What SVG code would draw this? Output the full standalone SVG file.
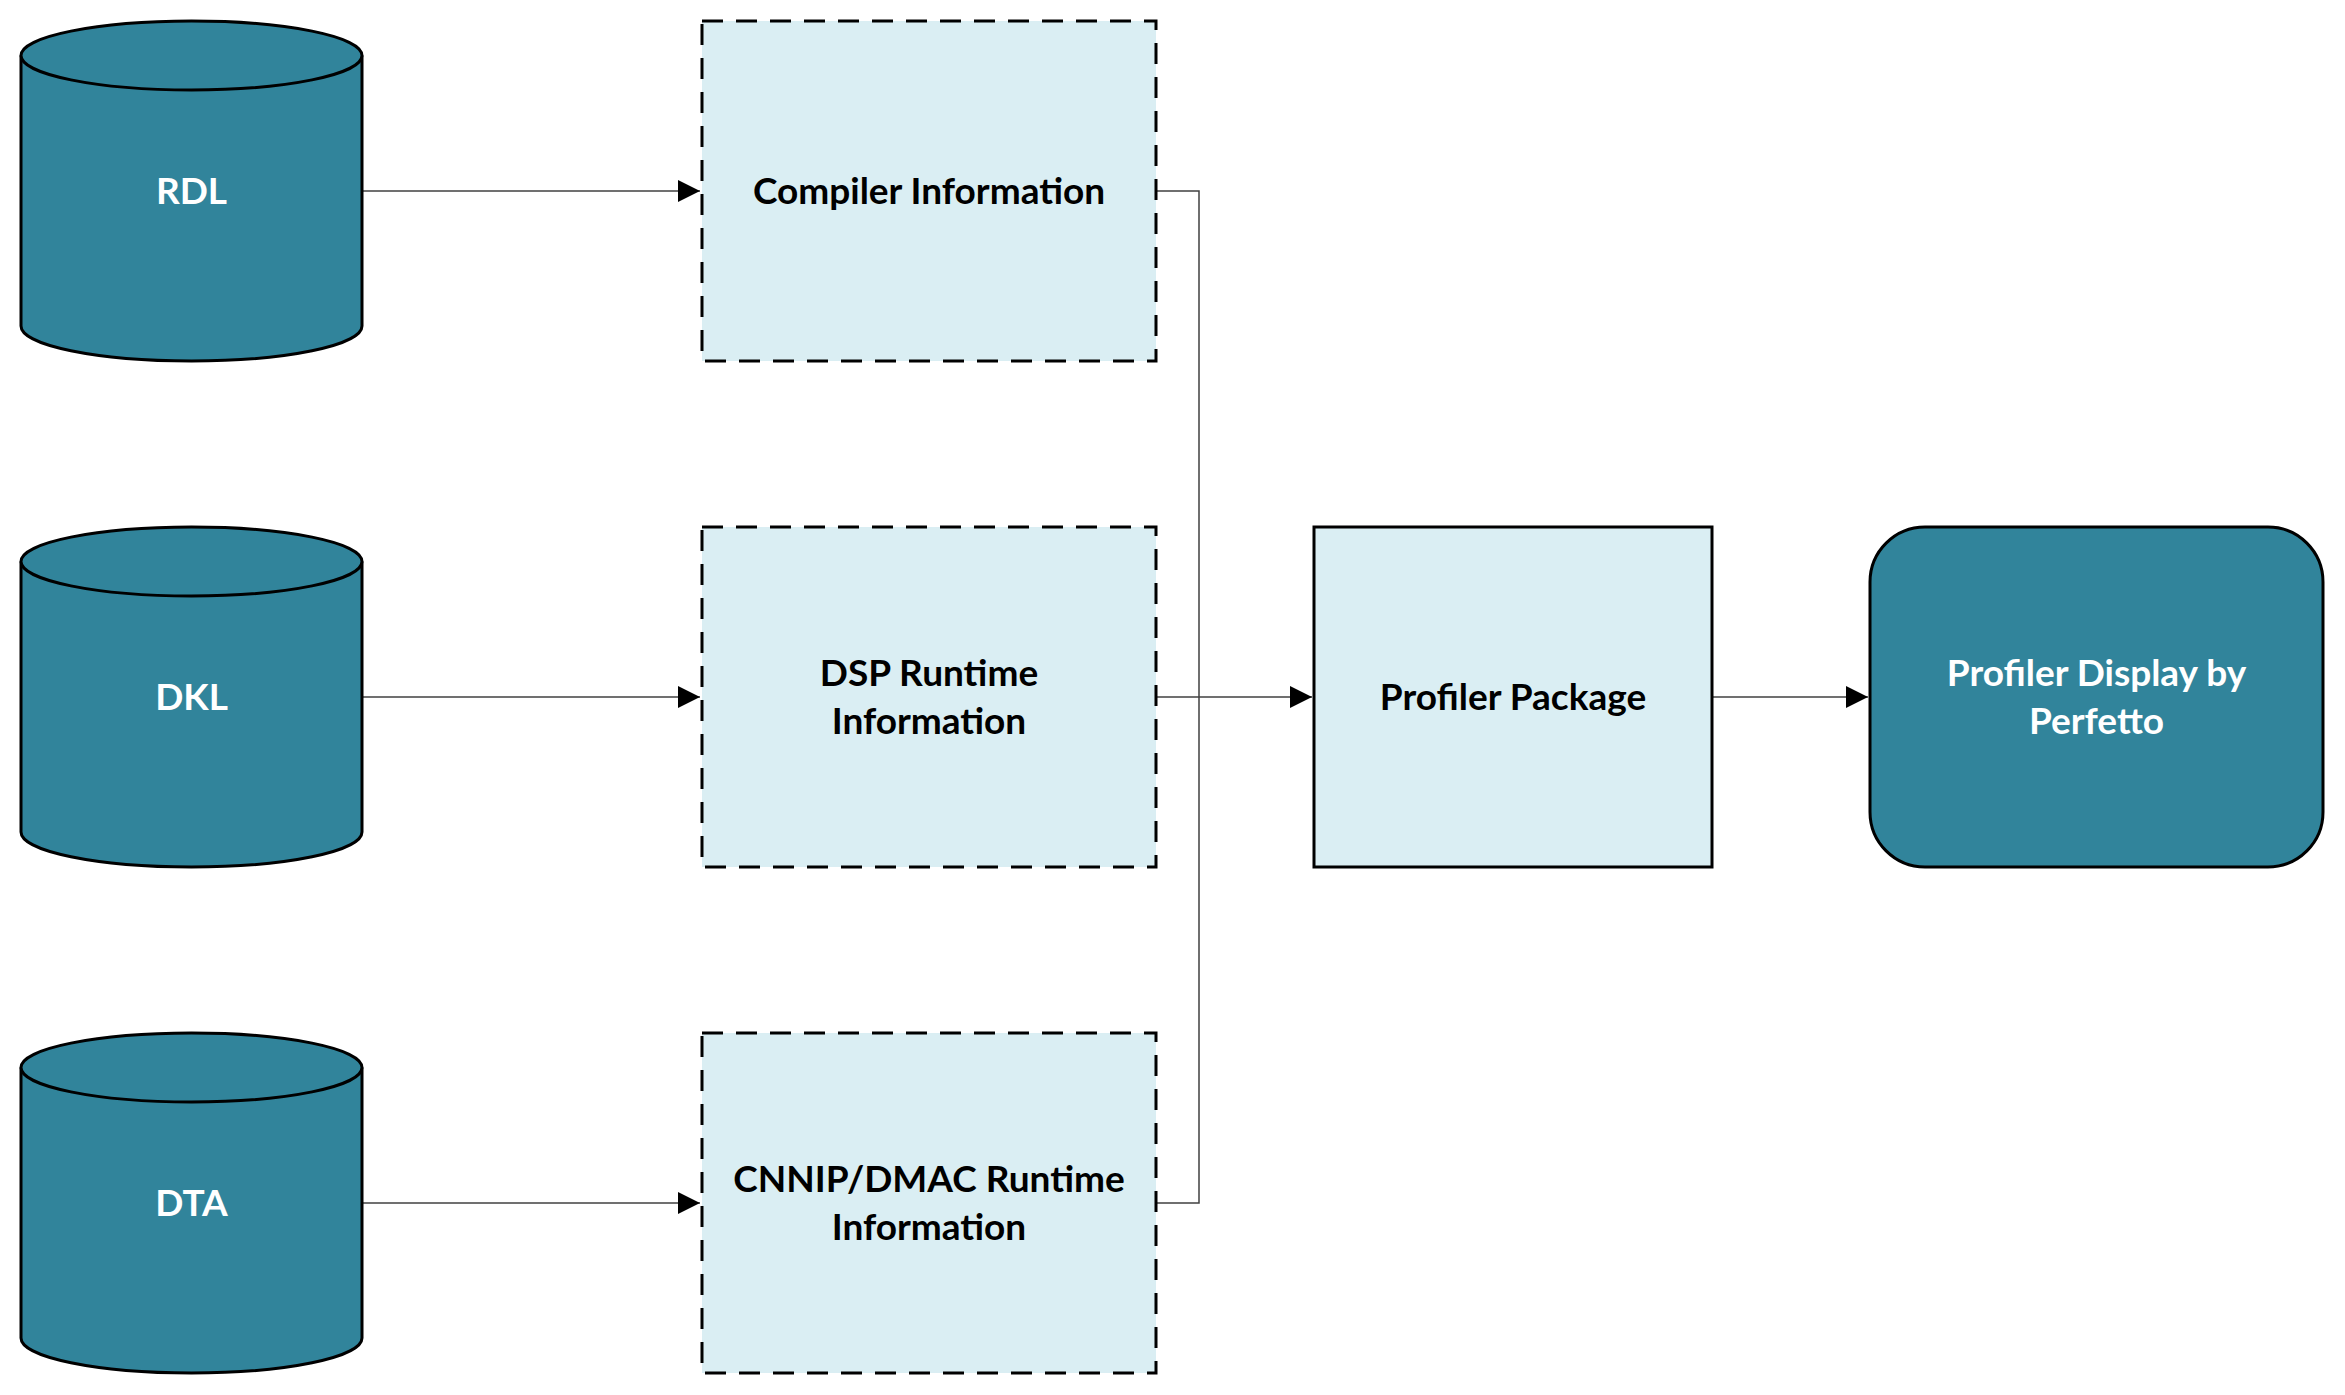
<svg xmlns="http://www.w3.org/2000/svg" width="2345" height="1395" viewBox="0 0 2345 1395">
<style>
.cyl{fill:#31849B;stroke:#000;stroke-width:3}
.dash{fill:#DAEEF3;stroke:#000;stroke-width:3;stroke-dasharray:21 13}
.solid{fill:#DAEEF3;stroke:#000;stroke-width:3}
.dark{fill:#31849B;stroke:#000;stroke-width:3}
.lt{font-family:Lato,"Open Sans","Liberation Sans",sans-serif;font-weight:bold;font-size:37px;text-anchor:middle;fill:#fff}
.dt{font-family:Lato,"Open Sans","Liberation Sans",sans-serif;font-weight:bold;font-size:37px;text-anchor:middle;fill:#000}
.conn{fill:none;stroke:#404040;stroke-width:1.5}
</style>
<defs>
<marker id="arr" markerUnits="userSpaceOnUse" markerWidth="23" markerHeight="22" refX="22" refY="11" orient="auto">
<path d="M0,0 L22,11 L0,22 Z" fill="#000"/>
</marker>
</defs>
<rect width="2345" height="1395" fill="#fff"/>
<g id="connectors">
<path class="conn" d="M362,191 H700" marker-end="url(#arr)"/>
<path class="conn" d="M362,697 H700" marker-end="url(#arr)"/>
<path class="conn" d="M362,1203 H700" marker-end="url(#arr)"/>
<path class="conn" d="M1156,191 H1199 V697"/>
<path class="conn" d="M1156,1203 H1199 V697"/>
<path class="conn" d="M1156,697 H1312" marker-end="url(#arr)"/>
<path class="conn" d="M1712,697 H1868" marker-end="url(#arr)"/>
</g>
<g id="rdl">
<path class="cyl" d="M21,55.5 V326 A170.5,35 0 0 0 362,326 V55.5"/>
<ellipse class="cyl" cx="191.5" cy="55.5" rx="170.5" ry="34.5"/>
<text class="lt" x="191.5" y="204">RDL</text>
</g>
<g id="dkl">
<path class="cyl" d="M21,561.5 V832 A170.5,35 0 0 0 362,832 V561.5"/>
<ellipse class="cyl" cx="191.5" cy="561.5" rx="170.5" ry="34.5"/>
<text class="lt" x="191.5" y="710">DKL</text>
</g>
<g id="dta">
<path class="cyl" d="M21,1067.5 V1338 A170.5,35 0 0 0 362,1338 V1067.5"/>
<ellipse class="cyl" cx="191.5" cy="1067.5" rx="170.5" ry="34.5"/>
<text class="lt" x="191.5" y="1216">DTA</text>
</g>
<g id="compiler">
<rect class="dash" x="702" y="21" width="454" height="340"/>
<text class="dt" x="929" y="204">Compiler Information</text>
</g>
<g id="dsp">
<rect class="dash" x="702" y="527" width="454" height="340"/>
<text class="dt" x="929" y="686">DSP Runtime</text>
<text class="dt" x="929" y="734">Information</text>
</g>
<g id="cnnip">
<rect class="dash" x="702" y="1033" width="454" height="340"/>
<text class="dt" x="929" y="1192">CNNIP/DMAC Runtime</text>
<text class="dt" x="929" y="1240">Information</text>
</g>
<g id="package">
<rect class="solid" x="1314" y="527" width="398" height="340"/>
<text class="dt" x="1513" y="710">Profiler Package</text>
</g>
<g id="display">
<rect class="dark" x="1870" y="527" width="453" height="340" rx="55" ry="55"/>
<text class="lt" x="2096.5" y="686">Profiler Display by</text>
<text class="lt" x="2096.5" y="734">Perfetto</text>
</g>
</svg>
